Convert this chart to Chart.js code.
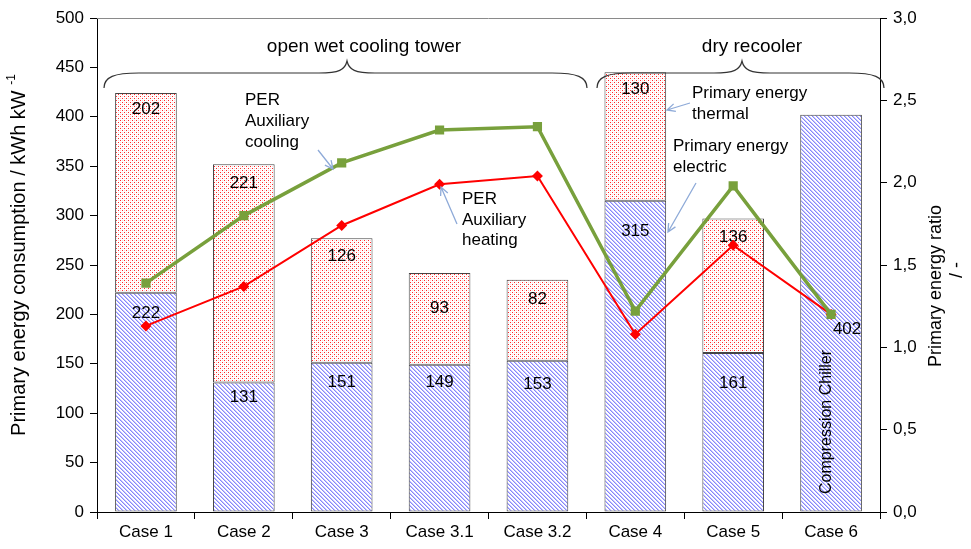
<!DOCTYPE html>
<html lang="en">
<head>
<meta charset="UTF-8">
<title>Primary energy consumption</title>
<script src="https://cdn.jsdelivr.net/npm/chart.js"></script>
<style>
    body { margin: 0; background: #fff; }
    .wrap { width: 971px; height: 549px; position: relative; }
</style>
</head>
<body>
<div class="wrap"><canvas id="grafico"></canvas></div>

<script>
    // dados
    const casos = ['Case 1', 'Case 2', 'Case 3', 'Case 3.1', 'Case 3.2', 'Case 4', 'Case 5', 'Case 6'];
    const energiaEletrica = [222, 131, 151, 149, 153, 315, 161, 402];
    const energiaTermica = [202, 221, 126, 93, 82, 130, 136, null];
    const perResfriamento = [1.39, 1.80, 2.12, 2.32, 2.34, 1.22, 1.98, 1.20];
    const perAquecimento = [1.13, 1.37, 1.74, 1.99, 2.04, 1.08, 1.62, 1.20];
    const ticksEsquerda = [0, 50, 100, 150, 200, 250, 300, 350, 400, 450, 500];
    const ticksDireita = [0, 0.5, 1, 1.5, 2, 2.5, 3];

    // deslocamento dos rotulos dentro das barras (px abaixo do topo do segmento)
    const offEletrica = [21, 15, 20, 18, 23, 31, 30, 214];
    const offTermica = [16, 19, 18, 35, 19, 17, 19, 0];

    const fonte = '"Liberation Sans", Arial, sans-serif';

    function criarPadrao(tipo) {
        const c = document.createElement('canvas');
        c.width = 4; c.height = 4;
        const g = c.getContext('2d');
        const img = g.createImageData(4, 4);
        for (let y = 0; y < 4; y++) {
            for (let x = 0; x < 4; x++) {
                let cor = [255, 255, 255];
                if (tipo === 'hachura') {
                    const d = ((x - y) % 4 + 4) % 4;
                    if (d === 0) cor = [135, 135, 250];
                    else if (d === 1) cor = [195, 195, 255];
                } else {
                    if ((x === 0 && y === 0) || (x === 2 && y === 2)) cor = [255, 40, 40];
                    else if ((x === 0 && y === 2) || (x === 2 && y === 0)) cor = [255, 215, 215];
                }
                const i = (y * 4 + x) * 4;
                img.data[i] = cor[0]; img.data[i + 1] = cor[1]; img.data[i + 2] = cor[2]; img.data[i + 3] = 255;
            }
        }
        g.putImageData(img, 0, 0);
        return document.createElement('canvas').getContext('2d').createPattern(c, 'repeat');
    }

    function chave(ctx, x1, x2, xm) {
        const yb = 88, yh = 73, yt = 61;
        ctx.beginPath();
        ctx.moveTo(x1, yb);
        ctx.bezierCurveTo(x1, 77, x1 + 10, yh, x1 + 35, yh);
        ctx.lineTo(xm - 28, yh);
        ctx.bezierCurveTo(xm - 8, yh, xm - 2, 70, xm, yt);
        ctx.bezierCurveTo(xm + 2, 70, xm + 8, yh, xm + 28, yh);
        ctx.lineTo(x2 - 35, yh);
        ctx.bezierCurveTo(x2 - 10, yh, x2, 77, x2, yb);
        ctx.stroke();
    }

    function seta(ctx, x1, y1, x2, y2) {
        const ang = Math.atan2(y2 - y1, x2 - x1);
        ctx.beginPath();
        ctx.moveTo(x1, y1);
        ctx.lineTo(x2, y2);
        ctx.moveTo(x2 - 9 * Math.cos(ang - 0.45), y2 - 9 * Math.sin(ang - 0.45));
        ctx.lineTo(x2, y2);
        ctx.lineTo(x2 - 9 * Math.cos(ang + 0.45), y2 - 9 * Math.sin(ang + 0.45));
        ctx.stroke();
    }

    const pluginRotulos = {
        id: 'rotulos',
        afterDatasetDraw(chart, args) {
            if (args.index !== 0) return;
            const ctx = chart.ctx;
            ctx.save();
            ctx.font = '17px ' + fonte;
            ctx.fillStyle = '#000';
            ctx.textAlign = 'center';
            ctx.textBaseline = 'middle';
            const metaE = chart.getDatasetMeta(0);
            const metaT = chart.getDatasetMeta(1);
            metaE.data.forEach((bar, i) => {
                const dx = i === 7 ? 16 : 0;
                ctx.fillText(energiaEletrica[i], bar.x + dx, bar.y + offEletrica[i]);
            });
            metaT.data.forEach((bar, i) => {
                if (energiaTermica[i] == null) return;
                ctx.fillText(energiaTermica[i], bar.x, bar.y + offTermica[i]);
            });
            ctx.restore();
        },
        afterDraw(chart) {
            const ctx = chart.ctx;
            const area = chart.chartArea;
            ctx.save();

            // borda superior da area
            ctx.strokeStyle = '#8a8a8a';
            ctx.lineWidth = 1;
            ctx.beginPath();
            ctx.moveTo(area.left, area.top + 0.5);
            ctx.lineTo(area.right, area.top + 0.5);
            ctx.stroke();

            // chaves
            ctx.strokeStyle = '#333';
            ctx.lineWidth = 1.2;
            chave(ctx, 104, 587, 347);
            chave(ctx, 597, 884, 742);

            ctx.fillStyle = '#000';
            ctx.textBaseline = 'middle';
            ctx.textAlign = 'center';
            ctx.font = '19px "Liberation Sans Narrow", ' + fonte;
            ctx.fillText('open wet cooling tower', 364, 47);
            ctx.fillText('dry recooler', 752, 47);

            // anotacoes
            ctx.font = '17px ' + fonte;
            ctx.textAlign = 'left';
            ctx.fillText('PER', 245, 100);
            ctx.fillText('Auxiliary', 245, 121);
            ctx.fillText('cooling', 245, 142);
            ctx.fillText('PER', 462, 199);
            ctx.fillText('Auxiliary', 462, 220);
            ctx.fillText('heating', 462, 240);
            ctx.fillText('Primary energy', 692, 93);
            ctx.fillText('thermal', 692, 114);
            ctx.fillText('Primary energy', 673, 146);
            ctx.fillText('electric', 673, 167);

            ctx.strokeStyle = '#8eaad8';
            ctx.lineWidth = 1.3;
            seta(ctx, 318, 150, 333, 169);
            seta(ctx, 457, 224, 441, 187);
            seta(ctx, 690, 103, 667, 110);
            seta(ctx, 696, 183, 668, 232);

            // texto vertical do Case 6
            ctx.save();
            ctx.translate(827, 422);
            ctx.rotate(-Math.PI / 2);
            ctx.textAlign = 'center';
            ctx.font = '16px ' + fonte;
            ctx.fillText('Compression Chiller', 0, 0);
            ctx.restore();

            // titulo eixo esquerdo
            ctx.save();
            ctx.translate(19, 255);
            ctx.rotate(-Math.PI / 2);
            ctx.font = '20px ' + fonte;
            const t1 = 'Primary energy consumption / kWh kW ';
            const w1 = ctx.measureText(t1).width;
            ctx.font = '12px ' + fonte;
            const w2 = ctx.measureText('-1').width;
            const x0 = -(w1 + w2) / 2;
            ctx.textAlign = 'left';
            ctx.font = '20px ' + fonte;
            ctx.fillText(t1, x0, 0);
            ctx.font = '12px ' + fonte;
            ctx.fillText('-1', x0 + w1, -7);
            ctx.restore();

            // titulo eixo direito
            ctx.save();
            ctx.font = '18px ' + fonte;
            ctx.textAlign = 'center';
            ctx.translate(936, 286);
            ctx.rotate(-Math.PI / 2);
            ctx.fillText('Primary energy ratio', 0, 0);
            ctx.restore();
            ctx.save();
            ctx.font = '18px ' + fonte;
            ctx.textAlign = 'center';
            ctx.translate(957, 270);
            ctx.rotate(-Math.PI / 2);
            ctx.fillText('/ -', 0, 0);
            ctx.restore();

            ctx.restore();
        }
    };

    const hachura = criarPadrao('hachura');
    const pontos = criarPadrao('pontos');

    const eixoBase = {
        grid: { drawOnChartArea: false, tickLength: 7, color: '#000' },
        border: { color: '#000', width: 1 },
        ticks: { color: '#000', font: { size: 17, family: fonte } }
    };

    new Chart(document.getElementById('grafico'), {
        data: {
            labels: casos,
            datasets: [
                {
                    type: 'bar',
                    label: 'Primary energy electric',
                    data: energiaEletrica,
                    backgroundColor: hachura,
                    borderColor: '#444',
                    borderWidth: 1,
                    borderSkipped: false,
                    yAxisID: 'y',
                    stack: 'pe',
                    order: 2,
                    barPercentage: 0.63,
                    categoryPercentage: 1
                },
                {
                    type: 'bar',
                    label: 'Primary energy thermal',
                    data: energiaTermica,
                    backgroundColor: pontos,
                    borderColor: '#444',
                    borderWidth: 1,
                    borderSkipped: false,
                    yAxisID: 'y',
                    stack: 'pe',
                    order: 2,
                    barPercentage: 0.63,
                    categoryPercentage: 1
                },
                {
                    type: 'line',
                    label: 'PER Auxiliary cooling',
                    data: perResfriamento,
                    borderColor: '#78a03c',
                    backgroundColor: '#78a03c',
                    borderWidth: 3.5,
                    pointStyle: 'rect',
                    pointRadius: 6.5,
                    pointBorderWidth: 0,
                    yAxisID: 'y1',
                    stack: 'l1',
                    order: 1,
                    tension: 0
                },
                {
                    type: 'line',
                    label: 'PER Auxiliary heating',
                    data: perAquecimento,
                    borderColor: '#ff0000',
                    backgroundColor: '#ff0000',
                    borderWidth: 2,
                    pointStyle: 'rectRot',
                    pointRadius: 5.5,
                    pointBorderWidth: 0,
                    yAxisID: 'y1',
                    stack: 'l2',
                    order: 1,
                    tension: 0
                }
            ]
        },
        options: {
            responsive: true,
            maintainAspectRatio: false,
            animation: false,
            layout: { padding: { top: 18, left: 0, right: 0, bottom: 0 } },
            plugins: {
                legend: { display: false },
                tooltip: { enabled: false }
            },
            scales: {
                x: {
                    ...eixoBase,
                    stacked: true,
                    offset: true,
                    grid: { ...eixoBase.grid, offset: true },
                    ticks: { ...eixoBase.ticks, padding: 3 },
                    afterFit(s) { s.height = 37; }
                },
                y: {
                    ...eixoBase,
                    position: 'left',
                    stacked: true,
                    min: 0,
                    max: 500,
                    afterBuildTicks(s) { s.ticks = ticksEsquerda.map(v => ({ value: v })); },
                    ticks: { ...eixoBase.ticks, padding: 6 },
                    afterFit(s) { s.width = 97; }
                },
                y1: {
                    ...eixoBase,
                    position: 'right',
                    min: 0,
                    max: 3,
                    afterBuildTicks(s) { s.ticks = ticksDireita.map(v => ({ value: v })); },
                    ticks: {
                        ...eixoBase.ticks,
                        padding: 6,
                        callback: v => v.toFixed(1).replace('.', ',')
                    },
                    afterFit(s) { s.width = 91; }
                }
            }
        },
        plugins: [pluginRotulos]
    });
</script>
</body>
</html>
